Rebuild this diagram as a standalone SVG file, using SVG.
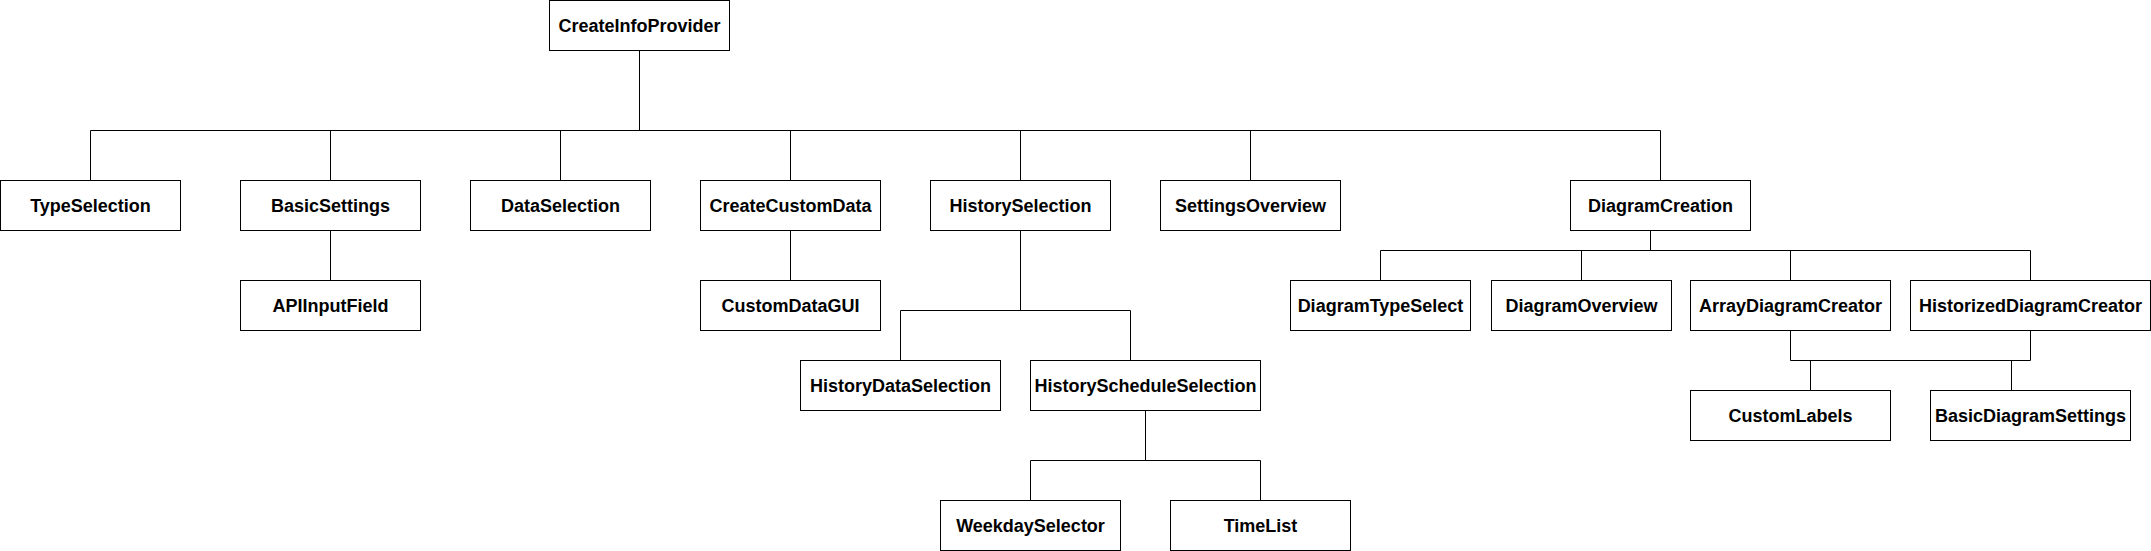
<svg xmlns="http://www.w3.org/2000/svg" width="2151" height="551" viewBox="0 0 2151 551">
<style>
.n rect{fill:#fff;stroke:#000;stroke-width:1}
.n text{font-family:"Liberation Sans",Arial,Helvetica,sans-serif;font-weight:bold;font-size:18px;fill:#000;text-anchor:middle;dominant-baseline:central}
#connectors path{fill:none;stroke:#000;stroke-width:1}
</style>
<rect width="2151" height="551" fill="#fff"/>
<g id="connectors">
<path d="M639.5 50.5V130.5M90.5 130.5H1660.5"/>
<path d="M90.5 130.5V180.5M330.5 130.5V180.5M560.5 130.5V180.5M790.5 130.5V180.5M1020.5 130.5V180.5M1250.5 130.5V180.5M1660.5 130.5V180.5"/>
<path d="M330.5 230.5V280.5M790.5 230.5V280.5"/>
<path d="M1020.5 230.5V310.5M900.5 360.5V310.5H1130.5V360.5"/>
<path d="M1145.5 410.5V460.5M1030.5 500.5V460.5H1260.5V500.5"/>
<path d="M1650.5 230.5V250.5M1380.5 280.5V250.5H2030.5V280.5M1581.5 250.5V280.5M1790.5 250.5V280.5"/>
<path d="M1790.5 330.5V360.5H2030.5V330.5M1810.5 360.5V390.5M2011.5 360.5V390.5"/>
</g>
<g id="CreateInfoProvider" class="n"><rect x="549.5" y="0.5" width="180" height="50"/><text x="639.5" y="25.5">CreateInfoProvider</text></g>
<g id="TypeSelection" class="n"><rect x="0.5" y="180.5" width="180" height="50"/><text x="90.5" y="205.5">TypeSelection</text></g>
<g id="BasicSettings" class="n"><rect x="240.5" y="180.5" width="180" height="50"/><text x="330.5" y="205.5">BasicSettings</text></g>
<g id="DataSelection" class="n"><rect x="470.5" y="180.5" width="180" height="50"/><text x="560.5" y="205.5">DataSelection</text></g>
<g id="CreateCustomData" class="n"><rect x="700.5" y="180.5" width="180" height="50"/><text x="790.5" y="205.5">CreateCustomData</text></g>
<g id="HistorySelection" class="n"><rect x="930.5" y="180.5" width="180" height="50"/><text x="1020.5" y="205.5">HistorySelection</text></g>
<g id="SettingsOverview" class="n"><rect x="1160.5" y="180.5" width="180" height="50"/><text x="1250.5" y="205.5">SettingsOverview</text></g>
<g id="DiagramCreation" class="n"><rect x="1570.5" y="180.5" width="180" height="50"/><text x="1660.5" y="205.5">DiagramCreation</text></g>
<g id="APIInputField" class="n"><rect x="240.5" y="280.5" width="180" height="50"/><text x="330.5" y="305.5">APIInputField</text></g>
<g id="CustomDataGUI" class="n"><rect x="700.5" y="280.5" width="180" height="50"/><text x="790.5" y="305.5">CustomDataGUI</text></g>
<g id="DiagramTypeSelect" class="n"><rect x="1290.5" y="280.5" width="180" height="50"/><text x="1380.5" y="305.5">DiagramTypeSelect</text></g>
<g id="DiagramOverview" class="n"><rect x="1491.5" y="280.5" width="180" height="50"/><text x="1581.5" y="305.5">DiagramOverview</text></g>
<g id="ArrayDiagramCreator" class="n"><rect x="1690.5" y="280.5" width="200" height="50"/><text x="1790.5" y="305.5">ArrayDiagramCreator</text></g>
<g id="HistorizedDiagramCreator" class="n"><rect x="1910.5" y="280.5" width="240" height="50"/><text x="2030.5" y="305.5">HistorizedDiagramCreator</text></g>
<g id="HistoryDataSelection" class="n"><rect x="800.5" y="360.5" width="200" height="50"/><text x="900.5" y="385.5">HistoryDataSelection</text></g>
<g id="HistoryScheduleSelection" class="n"><rect x="1030.5" y="360.5" width="230" height="50"/><text x="1145.5" y="385.5">HistoryScheduleSelection</text></g>
<g id="CustomLabels" class="n"><rect x="1690.5" y="390.5" width="200" height="50"/><text x="1790.5" y="415.5">CustomLabels</text></g>
<g id="BasicDiagramSettings" class="n"><rect x="1930.5" y="390.5" width="200" height="50"/><text x="2030.5" y="415.5">BasicDiagramSettings</text></g>
<g id="WeekdaySelector" class="n"><rect x="940.5" y="500.5" width="180" height="50"/><text x="1030.5" y="525.5">WeekdaySelector</text></g>
<g id="TimeList" class="n"><rect x="1170.5" y="500.5" width="180" height="50"/><text x="1260.5" y="525.5">TimeList</text></g>
</svg>
